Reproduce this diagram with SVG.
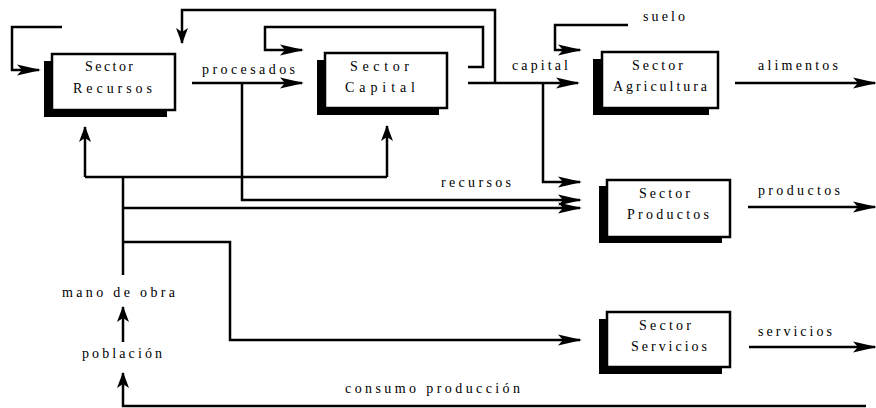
<svg xmlns="http://www.w3.org/2000/svg" width="876" height="408" viewBox="0 0 876 408">
  <style>
    text { font-family: "Liberation Serif", "Times New Roman", serif; font-size: 14px; fill: #000; }
    .wire { fill: none; stroke: #000; stroke-width: 2.5; stroke-linejoin: miter; }
    .box { fill: #fff; stroke: #000; stroke-width: 2.5; }
    .shadow { fill: #000; }
  </style>
  <defs>
    <!-- long barbed head used on horizontal flows -->
    <marker id="sharp" markerUnits="userSpaceOnUse" markerWidth="30" markerHeight="14" refX="24" refY="7" orient="auto" overflow="visible">
      <path d="M26,7 L2,1.5 L7,7 L2,12.5 Z" fill="#000"/>
    </marker>
    <!-- notched head used on vertical flows -->
    <marker id="notch" markerUnits="userSpaceOnUse" markerWidth="18" markerHeight="14" refX="15" refY="6" orient="auto" overflow="visible">
      <path d="M16,6 L0,0 L4,6 L0,12 Z" fill="#000"/>
    </marker>
  </defs>

  <rect width="876" height="408" fill="#fff"/>

  <!-- connectors -->
  <g id="connectors">
    <!-- Recursos feeds itself -->
    <path class="wire" d="M62,27 H12 V70 H39" marker-end="url(#sharp)"/>
    <!-- procesados: Recursos to Capital -->
    <path class="wire" d="M192,83 H302" marker-end="url(#sharp)"/>
    <!-- procesados branch down to Productos -->
    <path class="wire" d="M242,83 V200 H580" marker-end="url(#sharp)"/>
    <!-- Capital feeds itself -->
    <path class="wire" d="M468,67 H483 V27 H265 V50 H302" marker-end="url(#sharp)"/>
    <!-- capital to Agricultura -->
    <path class="wire" d="M468,83 H578" marker-end="url(#sharp)"/>
    <!-- capital back to Recursos -->
    <path class="wire" d="M495,83 V10 H182 V43" marker-end="url(#notch)"/>
    <!-- capital branch to Productos -->
    <path class="wire" d="M543,83 V182 H580" marker-end="url(#sharp)"/>
    <!-- suelo to Agricultura -->
    <path class="wire" d="M628,25 H555 V50 H580" marker-end="url(#sharp)"/>
    <!-- outputs -->
    <path class="wire" d="M735,83 H875" marker-end="url(#sharp)"/>
    <path class="wire" d="M748,207 H875" marker-end="url(#sharp)"/>
    <path class="wire" d="M749,347 H875" marker-end="url(#sharp)"/>
    <!-- mano de obra distribution -->
    <path class="wire" d="M123,275 V177"/>
    <path class="wire" d="M85,177 H387"/>
    <path class="wire" d="M85,177 V127" marker-end="url(#notch)"/>
    <path class="wire" d="M387,177 V126" marker-end="url(#notch)"/>
    <path class="wire" d="M123,208 H580" marker-end="url(#sharp)"/>
    <path class="wire" d="M123,242 H230 V340 H580" marker-end="url(#sharp)"/>
    <!-- población to mano de obra -->
    <path class="wire" d="M123,342 V307" marker-end="url(#notch)"/>
    <!-- consumo producción back to población -->
    <path class="wire" d="M866,406 H123 V373" marker-end="url(#notch)"/>
  </g>

  <!-- sectors -->
  <g id="sector-recursos">
    <rect class="shadow" x="44" y="61" width="123" height="56"/>
    <rect class="box" x="52" y="54" width="123" height="56"/>
    <text x="85" y="71" textLength="48" lengthAdjust="spacing">Sector</text>
    <text x="73" y="93" textLength="79" lengthAdjust="spacing">Recursos</text>
  </g>
  <g id="sector-capital">
    <rect class="shadow" x="317" y="60" width="122" height="55"/>
    <rect class="box" x="325" y="53" width="122" height="55"/>
    <text x="350" y="71" textLength="59" lengthAdjust="spacing">Sector</text>
    <text x="345" y="92" textLength="70" lengthAdjust="spacing">Capital</text>
  </g>
  <g id="sector-agricultura">
    <rect class="shadow" x="593" y="59" width="116" height="56"/>
    <rect class="box" x="602" y="52" width="116" height="56"/>
    <text x="632" y="70" textLength="51" lengthAdjust="spacing">Sector</text>
    <text x="613" y="91" textLength="94" lengthAdjust="spacing">Agricultura</text>
  </g>
  <g id="sector-productos">
    <rect class="shadow" x="599" y="186" width="123" height="57"/>
    <rect class="box" x="607" y="180" width="123" height="57"/>
    <text x="639" y="198" textLength="51" lengthAdjust="spacing">Sector</text>
    <text x="627" y="219" textLength="82" lengthAdjust="spacing">Productos</text>
  </g>
  <g id="sector-servicios">
    <rect class="shadow" x="599" y="319" width="123" height="55"/>
    <rect class="box" x="607" y="312" width="123" height="55"/>
    <text x="639" y="330" textLength="52" lengthAdjust="spacing">Sector</text>
    <text x="631" y="351" textLength="76" lengthAdjust="spacing">Servicios</text>
  </g>

  <!-- flow labels -->
  <g id="labels">
    <text x="202" y="74" textLength="93" lengthAdjust="spacing">procesados</text>
    <text x="512" y="70" textLength="56" lengthAdjust="spacing">capital</text>
    <text x="643" y="21" textLength="42" lengthAdjust="spacing">suelo</text>
    <text x="758" y="70" textLength="80" lengthAdjust="spacing">alimentos</text>
    <text x="441" y="187" textLength="70" lengthAdjust="spacing">recursos</text>
    <text x="758" y="195" textLength="82" lengthAdjust="spacing">productos</text>
    <text x="758" y="336" textLength="74" lengthAdjust="spacing">servicios</text>
    <text x="62" y="297" textLength="113" lengthAdjust="spacing">mano de obra</text>
    <text x="82" y="358" textLength="80" lengthAdjust="spacing">población</text>
    <text x="345" y="393" textLength="175" lengthAdjust="spacing">consumo producción</text>
  </g>
</svg>
